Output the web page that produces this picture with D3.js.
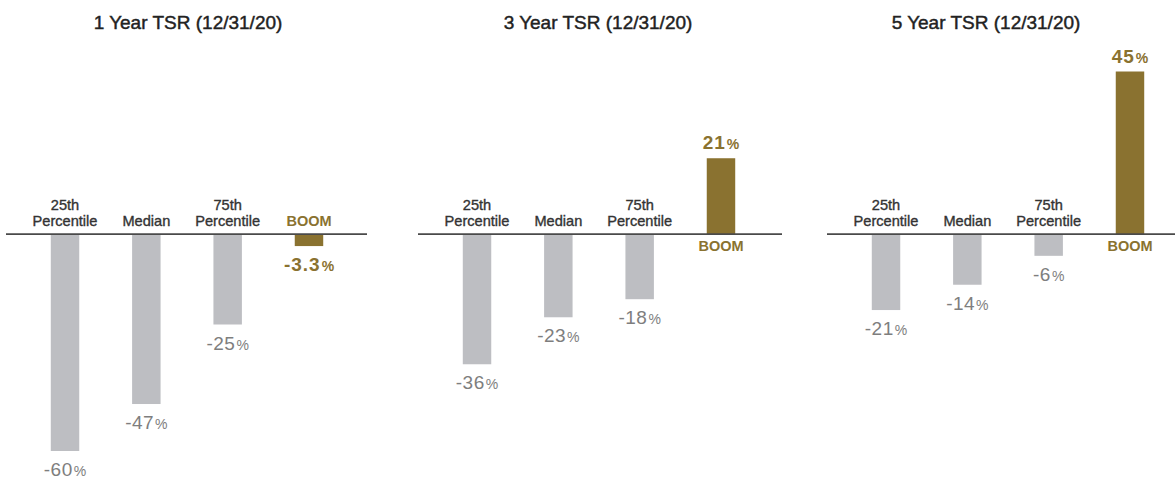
<!DOCTYPE html>
<html>
<head>
<meta charset="utf-8">
<script src="https://cdn.jsdelivr.net/npm/d3@7"></script>
<style>
  html, body { margin: 0; padding: 0; background: #ffffff; }
  svg { display: block; font-family: "Liberation Sans", Arial, Helvetica, sans-serif; }
</style>
</head>
<body>
<svg id="chart" width="1175" height="479"></svg>
<script>
// ---- data ----
const panelTitles = ["1 Year TSR (12/31/20)", "3 Year TSR (12/31/20)", "5 Year TSR (12/31/20)"];
const categories = ["25th Percentile", "Median", "75th Percentile", "BOOM"];
const categoryLines = [["25th", "Percentile"], ["Median"], ["75th", "Percentile"], ["BOOM"]];
const tsr1Year = [-60, -47, -25, -3.3];
const tsr3Year = [-36, -23, -18, 21];
const tsr5Year = [-21, -14, -6, 45];
const seriesValues = [tsr1Year, tsr3Year, tsr5Year];
const valueLabels = [["-60", "-47", "-25", "-3.3"], ["-36", "-23", "-18", "21"], ["-21", "-14", "-6", "45"]];

// ---- layout ----
const panelX = [6, 418, 827];
const panelLineW = [361, 364, 348];
const titleCX = [188, 598, 986];
const grayBar = "#bdbec2";
const gold = "#8a7230";
const grayText = "#7e7e7e";
const darkText = "#333333";

const svg = d3.select("#chart");

const y = d3.scaleLinear().domain([-60, 45]).range([451, 71.5]);
const x = d3.scaleBand().domain(categories).range([18.35, 343.65]).paddingInner(0.65).paddingOuter(0.325);
const y0 = y(0);

seriesValues.forEach((vals, p) => {
  const g = svg.append("g").attr("transform", `translate(${panelX[p]},0)`);

  // title
  svg.append("text")
    .attr("x", titleCX[p]).attr("y", 29)
    .attr("text-anchor", "middle")
    .attr("font-size", 19)
    .attr("fill", "#222")
    .attr("stroke", "#222").attr("stroke-width", 0.45)
    .text(panelTitles[p]);

  const data = categories.map((c, i) => ({ c, i, v: vals[i], lab: valueLabels[p][i] }));

  // bars
  g.selectAll("rect.bar").data(data).enter().append("rect")
    .attr("class", "bar")
    .attr("x", d => x(d.c))
    .attr("width", x.bandwidth())
    .attr("y", d => Math.min(y(d.v), y0))
    .attr("height", d => Math.abs(y(d.v) - y0))
    .attr("fill", d => d.c === "BOOM" ? gold : grayBar);

  // zero line
  g.append("line")
    .attr("x1", 0).attr("x2", panelLineW[p])
    .attr("y1", y0).attr("y2", y0)
    .attr("stroke", "#4a4a4a").attr("stroke-width", 1.6);

  // category labels
  data.forEach(d => {
    const cx = x(d.c) + x.bandwidth() / 2;
    const lines = categoryLines[d.i];
    const isBoom = d.c === "BOOM";
    const t = g.append("text")
      .attr("text-anchor", "middle")
      .attr("font-size", isBoom ? 14.5 : 14.6)
      .attr("font-weight", isBoom ? "bold" : "normal")
      .attr("fill", isBoom ? gold : darkText);
    if (!isBoom) t.attr("stroke", darkText).attr("stroke-width", 0.35);
    if (d.v < 0) {
      const lastY = 226;
      lines.forEach((ln, k) => {
        t.append("tspan").attr("x", cx).attr("y", lastY - (lines.length - 1 - k) * 16.5).text(ln);
      });
    } else {
      t.append("tspan").attr("x", cx).attr("y", y0 + 17).text(lines[0]);
    }
  });

  // value labels
  data.forEach(d => {
    const cx = x(d.c) + x.bandwidth() / 2;
    const isBoom = d.c === "BOOM";
    const ty = d.v < 0 ? y(d.v) + 25 : y(d.v) - 9;
    const t = g.append("text")
      .attr("x", cx).attr("y", ty)
      .attr("text-anchor", "middle")
      .attr("fill", isBoom ? gold : grayText)
      .attr("font-weight", isBoom ? "bold" : "normal");
    t.append("tspan").attr("font-size", 19).attr("letter-spacing", isBoom ? 1 : 0.5).text(d.lab);
    t.append("tspan").attr("font-size", 14).attr("dx", 1).text("%");
  });
});
</script>
</body>
</html>
